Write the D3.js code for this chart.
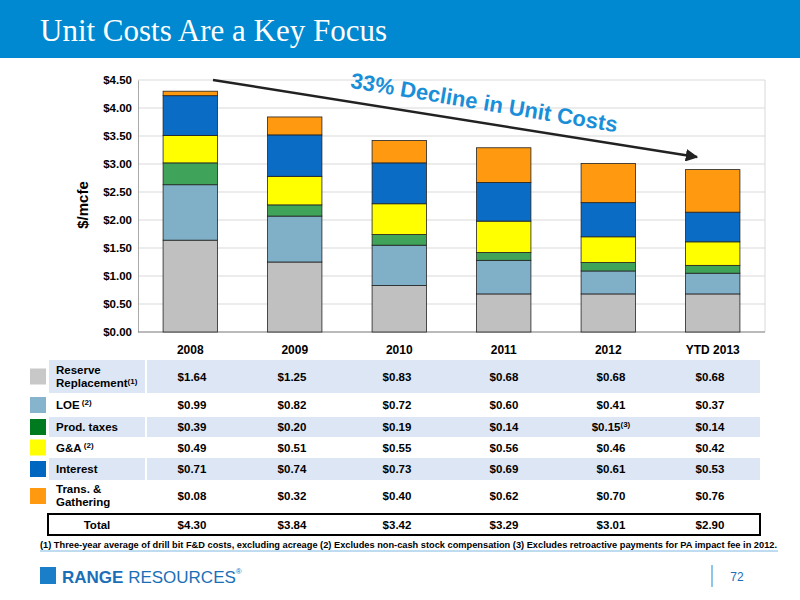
<!DOCTYPE html><html><head><meta charset="utf-8"><script src="https://cdn.jsdelivr.net/npm/d3@7"></script>
<style>body{margin:0;background:#fff}svg{display:block}</style></head><body><svg id="c" width="800" height="600"></svg>
<script>
const categories=["2008","2009","2010","2011","2012","YTD 2013"];
const seriesNames=["Reserve Replacement","LOE","Prod. taxes","G&A","Interest","Trans. & Gathering"];
const seriesLabels=[["Reserve","Replacement","(1)"],["LOE","(2)"],["Prod. taxes"],["G&A","(2)"],["Interest"],["Trans. &","Gathering"]];
const colors=["#c0c0c0","#7fb0c8","#3fa35a","#ffff00","#0a6cc4","#ff9a10"];
const tableColors=["#c8c8c8","#86b4cc","#007a1e","#ffff00","#0067c0","#ff9a10"];
const reserve=[1.64,1.25,0.83,0.68,0.68,0.68];
const loe=[0.99,0.82,0.72,0.60,0.41,0.37];
const prodTaxes=[0.39,0.20,0.19,0.14,0.15,0.14];
const ga=[0.49,0.51,0.55,0.56,0.46,0.42];
const interest=[0.71,0.74,0.73,0.69,0.61,0.53];
const trans=[0.08,0.32,0.40,0.62,0.70,0.76];
const totals=[4.30,3.84,3.42,3.29,3.01,2.90];
const yTicks=[0,0.5,1,1.5,2,2.5,3,3.5,4,4.5];
const series=[reserve,loe,prodTaxes,ga,interest,trans];
const svg=d3.select("#c");
const F="Liberation Sans, Arial, sans-serif";
svg.append("rect").attr("width",800).attr("height",58).attr("fill","#0089d0");
svg.append("text").attr("x",40).attr("y",41).attr("fill","#fff").attr("font-family","Liberation Serif, serif").attr("font-size",31).text("Unit Costs Are a Key Focus");
const x=d3.scaleBand().domain(categories).range([138,765]).paddingInner(0.48).paddingOuter(0.24);
const y=d3.scaleLinear().domain([0,4.5]).range([332,80]);
const g=svg.append("g");
g.selectAll("line.grid").data(yTicks).join("line").attr("x1",138).attr("x2",765).attr("y1",d=>y(d)).attr("y2",d=>y(d)).attr("stroke","#d9d9d9");
g.append("line").attr("x1",765).attr("x2",765).attr("y1",80).attr("y2",332).attr("stroke","#d9d9d9");
const ax=svg.append("g").attr("transform","translate(138,0)").call(d3.axisLeft(y).tickValues(yTicks).tickFormat(d=>"$"+d3.format(".2f")(d)).tickSize(0).tickPadding(6));
ax.select(".domain").attr("stroke","#aaa");
ax.selectAll("text").attr("font-family",F).attr("font-size",11.5).attr("font-weight","bold").attr("fill","#000");
svg.append("line").attr("x1",138).attr("x2",765).attr("y1",332).attr("y2",332).attr("stroke","#888");
const stack=d3.stack().keys(d3.range(6)).value((d,k)=>series[k][d])(d3.range(6));
stack.forEach((layer,k)=>{
 svg.append("g").selectAll("rect").data(layer).join("rect")
  .attr("x",(d,i)=>x(categories[i])).attr("width",x.bandwidth())
  .attr("y",d=>y(d[1])).attr("height",d=>y(d[0])-y(d[1]))
  .attr("fill",colors[k]).attr("stroke","#222").attr("stroke-width",0.8);
});
svg.append("g").selectAll("text").data(categories).join("text").attr("x",d=>x(d)+x.bandwidth()/2).attr("y",354).attr("text-anchor","middle").attr("font-family",F).attr("font-size",12).attr("font-weight","bold").text(d=>d);
svg.append("text").attr("transform","translate(88,205) rotate(-90)").attr("text-anchor","middle").attr("font-family",F).attr("font-size",15).attr("font-weight","bold").text("$/mcfe");
svg.append("defs").append("marker").attr("id","ah").attr("viewBox","0 0 10 10").attr("refX",9).attr("refY",5).attr("markerWidth",5).attr("markerHeight",5).attr("orient","auto").append("path").attr("d","M0,0L10,5L0,10z").attr("fill","#222");
svg.append("line").attr("x1",213).attr("y1",80).attr("x2",697).attr("y2",157).attr("stroke","#222").attr("stroke-width",2.5).attr("marker-end","url(#ah)");
svg.append("text").attr("transform","translate(483,110) rotate(9.5)").attr("text-anchor","middle").attr("font-family",F).attr("font-size",22).attr("font-weight","bold").attr("fill","#1a8fd8").text("33% Decline in Unit Costs");
const rows=[[360,393],[393,417],[417,437],[437,458],[458,480],[480,512]];
const cx=[192,292,397,504,611,710];
rows.forEach((r,k)=>{
 if(k%2==0){svg.append("rect").attr("x",49).attr("y",r[0]).attr("width",96).attr("height",r[1]-r[0]).attr("fill","#dce6f4");
  svg.append("rect").attr("x",147).attr("y",r[0]).attr("width",613).attr("height",r[1]-r[0]).attr("fill","#dce6f4");}
 const mid=(r[0]+r[1])/2;
 svg.append("rect").attr("x",30).attr("y",mid-8).attr("width",16).attr("height",16).attr("fill",tableColors[k]);
 const lab=seriesLabels[k];
 const t=svg.append("text").attr("font-family",F).attr("font-size",11.5).attr("font-weight","bold").attr("x",56);
 if(k==0||k==5){
  t.attr("y",mid-3).text(lab[0]);
  const t2=svg.append("text").attr("font-family",F).attr("font-size",11.5).attr("font-weight","bold").attr("x",56).attr("y",mid+10).text(lab[1]);
  if(lab[2]) t2.append("tspan").attr("font-size",8).attr("dy",-3).text(lab[2]);
 } else {
  t.attr("y",mid+4).text(lab[0]);
  if(lab[1]) t.append("tspan").attr("font-size",8).attr("dy",-4).text(" "+lab[1]);
 }
 series[k].forEach((v,i)=>{
  const tt=svg.append("text").attr("x",cx[i]).attr("y",mid+4).attr("text-anchor","middle").attr("font-family",F).attr("font-size",11.5).attr("font-weight","bold").text("$"+v.toFixed(2));
  if(k==2&&i==4) tt.append("tspan").attr("font-size",8).attr("dy",-4).text("(3)");
 });
});
svg.append("rect").attr("x",48).attr("y",514).attr("width",712).attr("height",21).attr("fill","none").attr("stroke","#000").attr("stroke-width",2);
svg.append("text").attr("x",97).attr("y",529).attr("text-anchor","middle").attr("font-family",F).attr("font-size",11.5).attr("font-weight","bold").text("Total");
totals.forEach((v,i)=>svg.append("text").attr("x",cx[i]).attr("y",529).attr("text-anchor","middle").attr("font-family",F).attr("font-size",11.5).attr("font-weight","bold").text("$"+v.toFixed(2)));
svg.append("text").attr("x",40).attr("y",548).attr("font-family",F).attr("font-size",9).attr("font-weight","bold").attr("textLength",737).attr("lengthAdjust","spacingAndGlyphs").text("(1)  Three-year average of drill bit F&D costs, excluding acreage   (2)  Excludes non-cash stock compensation   (3)  Excludes retroactive payments for PA impact fee in 2012.");
svg.append("line").attr("x1",40).attr("x2",778).attr("y1",551).attr("y2",551).attr("stroke","#7fb8e0");
svg.append("rect").attr("x",40).attr("y",567).attr("width",16).attr("height",17).attr("fill","#1a7fc8");
const lg=svg.append("text").attr("x",62).attr("y",583).attr("font-family",F).attr("font-size",17).attr("font-weight","bold").attr("fill","#1a6fb8").text("RANGE");
lg.append("tspan").attr("font-weight","normal").text(" RESOURCES");
lg.append("tspan").attr("font-weight","normal").attr("font-size",8).attr("dy",-9).text("®");
svg.append("line").attr("x1",712).attr("x2",712).attr("y1",565).attr("y2",587).attr("stroke","#1a8fd8");
svg.append("text").attr("x",737).attr("y",581).attr("text-anchor","middle").attr("font-family",F).attr("font-size",12).attr("fill","#1a6fb8").text("72");
</script></body></html>
